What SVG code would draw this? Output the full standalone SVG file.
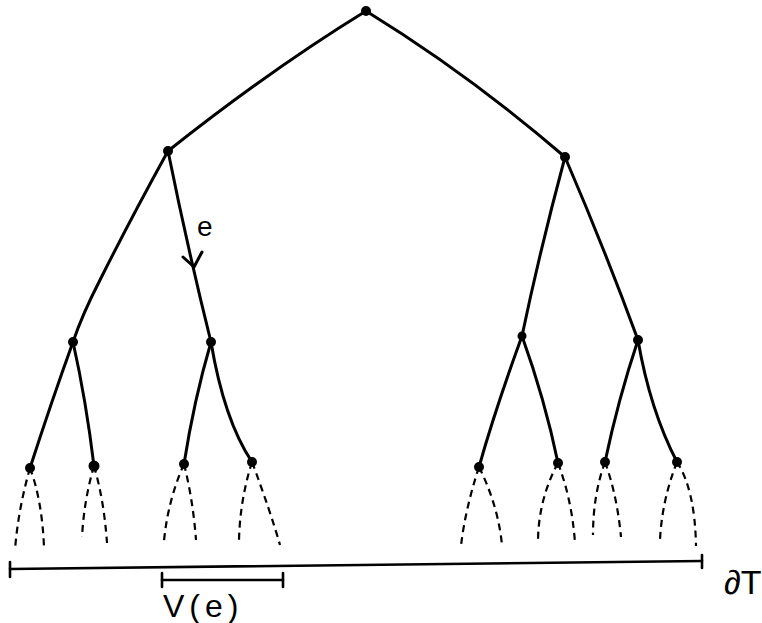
<svg xmlns="http://www.w3.org/2000/svg" width="762" height="623" viewBox="0 0 762 623">
<style>
.edge{fill:none;stroke:#000;stroke-width:3;stroke-linecap:round;stroke-linejoin:round}
.dash{fill:none;stroke:#000;stroke-width:2.2;stroke-dasharray:7 5;stroke-linecap:butt}
.dot{fill:#000}
.bar{fill:none;stroke:#000;stroke-width:2.6;stroke-linecap:round}
.lbl{font-family:"Liberation Sans",Arial,sans-serif;fill:#000}
</style>
<rect width="762" height="623" fill="#fff"/>
<g id="connectors">
  <path class="edge" d="M366,11 Q270,70 168,151"/>
  <path class="edge" d="M366,11 Q470,75 565,157"/>
  <path class="edge" d="M168,151 Q130,220 100,280 Q82,315 73,342"/>
  <path class="edge" d="M168,151 Q188,250 211,342"/>
  <path class="edge" d="M183,257 L194,267 L202,252"/>
  <path class="edge" d="M565,157 Q540,250 522,336"/>
  <path class="edge" d="M565,157 Q605,250 638,340"/>
  <path class="edge" d="M73,342 Q52,400 30,468"/>
  <path class="edge" d="M73,342 Q86,400 94,466"/>
  <path class="edge" d="M211,342 Q194,400 184,464"/>
  <path class="edge" d="M211,342 Q224,420 252,462"/>
  <path class="edge" d="M522,336 Q495,410 479,467"/>
  <path class="edge" d="M522,336 Q545,400 558,463"/>
  <path class="edge" d="M638,340 Q618,400 605,462"/>
  <path class="edge" d="M638,340 Q650,410 677,462"/>
  <path class="dash" d="M30,468 Q18,510 15,550"/>
  <path class="dash" d="M30,468 Q42,500 44,547"/>
  <path class="dash" d="M94,466 Q84,500 82,537"/>
  <path class="dash" d="M94,466 Q104,500 107,543"/>
  <path class="dash" d="M184,464 Q168,500 164,541"/>
  <path class="dash" d="M184,464 Q193,500 196,540"/>
  <path class="dash" d="M252,462 Q240,500 239,540"/>
  <path class="dash" d="M252,462 Q270,510 280,545"/>
  <path class="dash" d="M479,467 Q465,510 461,546"/>
  <path class="dash" d="M479,467 Q498,505 502,545"/>
  <path class="dash" d="M558,463 Q538,500 538,543"/>
  <path class="dash" d="M558,463 Q572,500 575,543"/>
  <path class="dash" d="M605,462 Q593,495 593,535"/>
  <path class="dash" d="M605,462 Q617,495 621,537"/>
  <path class="dash" d="M677,462 Q662,500 660,540"/>
  <path class="dash" d="M677,462 Q695,490 696,546"/>
</g>
<g id="root"><circle class="dot" cx="366" cy="11" r="5"/></g>
<g id="n_l"><circle class="dot" cx="168" cy="151" r="5"/></g>
<g id="n_r"><circle class="dot" cx="565" cy="157" r="5"/></g>
<g id="n_ll"><circle class="dot" cx="73" cy="342" r="5"/></g>
<g id="n_lr"><circle class="dot" cx="211" cy="342" r="5"/></g>
<g id="n_rl"><circle class="dot" cx="522" cy="336" r="4.5"/></g>
<g id="n_rr"><circle class="dot" cx="638" cy="340" r="5"/></g>
<g id="n_lll"><circle class="dot" cx="30" cy="468" r="5"/></g>
<g id="n_llr"><circle class="dot" cx="94" cy="466" r="5.5"/></g>
<g id="n_lrl"><circle class="dot" cx="184" cy="464" r="5"/></g>
<g id="n_lrr"><circle class="dot" cx="252" cy="462" r="5"/></g>
<g id="n_rll"><circle class="dot" cx="479" cy="467" r="5"/></g>
<g id="n_rlr"><circle class="dot" cx="558" cy="463" r="5"/></g>
<g id="n_rrl"><circle class="dot" cx="605" cy="462" r="5"/></g>
<g id="n_rrr"><circle class="dot" cx="677" cy="462" r="5"/></g>
<g id="label_e"><text class="lbl" x="197" y="236" font-size="28">e</text></g>
<g id="boundary">
  <path class="bar" d="M10,569 L702,561"/>
  <path class="bar" d="M10,562 L10,577"/>
  <path class="bar" d="M702,555 L702,568"/>
  <text class="lbl" x="724" y="594" font-size="34">∂T</text>
</g>
<g id="ve">
  <path class="bar" d="M162,580 L283,580"/>
  <path class="bar" d="M162,573 L162,587"/>
  <path class="bar" d="M283,573 L283,587"/>
  <text class="lbl" x="163" y="617" font-size="32" letter-spacing="5">V(e)</text>
</g>
</svg>
